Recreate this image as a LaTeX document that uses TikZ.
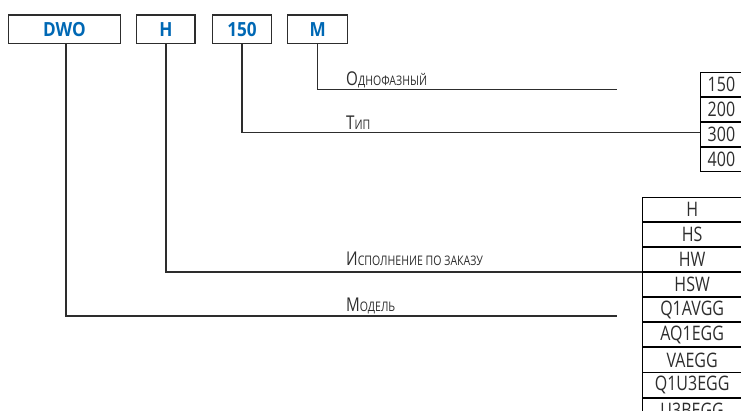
\documentclass[tikz,border=0pt]{standalone}
\usepackage{fontspec}
\setmainfont{Open Sans}
\newfontfamily\codefont[FakeStretch=0.88]{Open Sans}
\newfontfamily\thinfont[FakeStretch=0.8]{Open Sans}
\definecolor{codeblue}{RGB}{0,104,180}
\definecolor{inkgray}{RGB}{45,45,45}
% first letter full size, the rest as small capitals
\newcommand\capsmall[2]{{\fontsize{19}{20}\selectfont #1}{\fontsize{13.2}{14}\selectfont #2}}
\tikzset{
  codebox/.style={draw=inkgray, line width=1.2pt, minimum height=28.3pt, inner sep=0pt,
    font=\codefont\bfseries\fontsize{19.5}{20}\selectfont, text=codeblue},
  link/.style={draw=inkgray, line width=1.2pt},
  lbl/.style={anchor=base west, inner sep=0pt, text=inkgray, font=\thinfont},
  cellA/.style={draw=black, line width=0.9pt, minimum width=42pt, minimum height=24pt,
    inner sep=0pt, anchor=north west, font=\thinfont\fontsize{20}{20}\selectfont, text=inkgray},
  cellB/.style={cellA, minimum width=100pt, minimum height=24.2pt},
}
\begin{document}
\begin{tikzpicture}[x=1pt,y=-1pt]
\useasboundingbox (0,0) rectangle (741,410);
\clip (0,0) rectangle (741,410);

% code boxes
\node[codebox, minimum width=112.4pt] (dwo) at (64.5,29.2) {DWO};
\node[codebox, minimum width=58.3pt] (hh) at (165.9,29.2) {H};
\node[codebox, minimum width=59.4pt] (num) at (242,29.2) {150};
\node[codebox, minimum width=60pt] (mm) at (317.7,29.2) {M};

% table of sizes
\node[cellA] (s150) at (700,72) {150};
\node[cellA] (s200) at (s150.south west) {200};
\node[cellA] (s300) at (s200.south west) {300};
\node[cellA] (s400) at (s300.south west) {400};

% table of options
\node[cellB] (oH) at (641.7,196.7) {H};
\node[cellB] (oHS) at (oH.south west) {HS};
\node[cellB] (oHW) at (oHS.south west) {HW};
\node[cellB] (oHSW) at (oHW.south west) {HSW};
\node[cellB] (oQ1) at (oHSW.south west) {Q1AVGG};
\node[cellB] (oAQ) at (oQ1.south west) {AQ1EGG};
\node[cellB] (oVA) at (oAQ.south west) {VAEGG};
\node[cellB] (oQU) at (oVA.south west) {Q1U3EGG};
\node[cellB] (oU3) at (oQU.south west) {U3BEGG};

% free ends of the open lines
\coordinate (endM) at (616.7,89.3);
\coordinate (endDWO) at (616.7,316);

% connectors
\draw[link] ([xshift=1.5pt]dwo.south) |- (endDWO);
\draw[link] (hh.south) |- (oHSW.north west);
\draw[link] (num.south) |- ([yshift=1.5pt]s300.west);
\draw[link] (mm.south) |- (endM);

% labels
\node[lbl] (tM) at (346,85) {\capsmall{О}{ДНОФАЗНЫЙ}};
\node[lbl] (tNum) at (346,129.5) {\capsmall{Т}{ИП}};
\node[lbl] (tH) at (346,265.5) {\capsmall{И}{СПОЛНЕНИЕ ПО ЗАКАЗУ}};
\node[lbl] (tDWO) at (346,311.5) {\capsmall{М}{ОДЕЛЬ}};
\end{tikzpicture}
\end{document}
